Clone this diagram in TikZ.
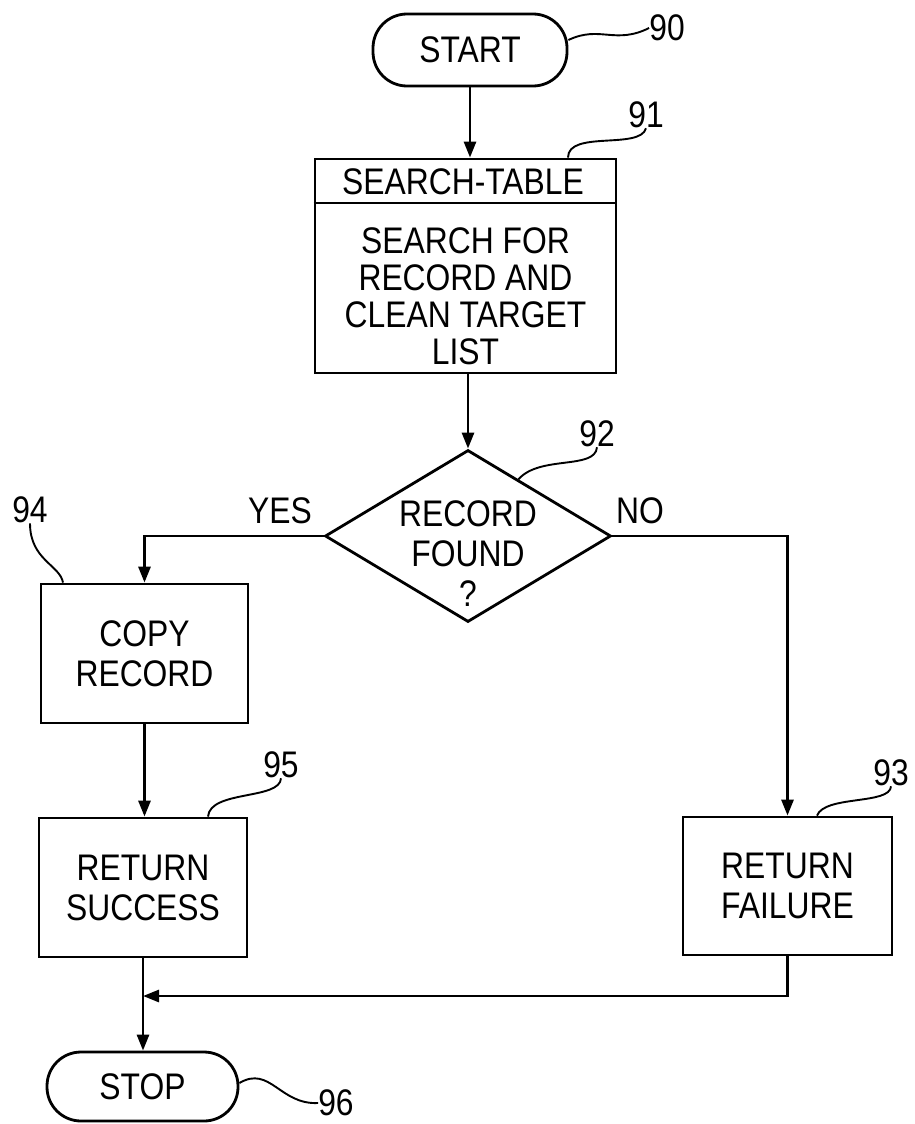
\documentclass[tikz,border=0pt]{standalone}
\usepackage{fontspec}
\setmainfont{Liberation Sans}[FakeStretch=0.86]
\usetikzlibrary{arrows.meta,shapes.geometric,calc}
\begin{document}
\begin{tikzpicture}[x=1pt,y=-1pt,
  every node/.style={font=\fontsize{37}{40}\selectfont, inner sep=0pt},
  line/.style={line width=2.8pt},
  arr/.style={line width=2.8pt,-{Triangle[length=16pt,width=12pt]}},
  lead/.style={line width=1.9pt},
  box/.style={draw, line width=2.8pt, rectangle, align=center},
  term/.style={draw, line width=2.8pt, rectangle, rounded corners=34pt},
  dia/.style={draw, line width=2.8pt, diamond}]
\useasboundingbox (0,0) rectangle (914,1124);

% nodes
\node[term, minimum width=194pt, minimum height=72pt] (start) at (470,50) {START};
\node[box, minimum width=301pt, minimum height=214pt] (search) at (465.5,266) {};
\draw[line] (search.west |- 0,203) -- (search.east |- 0,203);
\node (searchhead) at (463,182) {SEARCH-TABLE};
\node[align=center, font=\fontsize{37}{37}\selectfont] (searchbody) at (465.5,296) {SEARCH FOR\\RECORD AND\\CLEAN TARGET\\LIST};
\node[dia, minimum width=286pt, minimum height=172pt] (dec) at (468,536) {};
\node[align=center] (dectext) at (468,554) {RECORD\\FOUND\\?};
\node[box, minimum width=207pt, minimum height=139pt] (copy) at (144.5,653.5) {COPY\\RECORD};
\node[box, minimum width=208pt, minimum height=139pt] (succ) at (143,887.5) {RETURN\\SUCCESS};
\node[box, minimum width=209pt, minimum height=138pt] (fail) at (787.5,886) {RETURN\\FAILURE};
\node[term, minimum width=191pt, minimum height=69pt] (stop) at (142.5,1086.5) {STOP};

% branch labels
\node (yes) at (280,511) {YES};
\node (no) at (640,511) {NO};

% reference numerals
\node (n90) at (667,28) {90};
\node (n91) at (646,115) {91};
\node (n92) at (597,434) {92};
\node (n93) at (891,773) {93};
\node (n94) at (30,510) {94};
\node (n95) at (281,765) {95};
\node (n96) at (336,1103) {96};

% connectors
\draw[arr] (start.south) -- (start.south |- search.north);
\draw[arr] (dec.north |- search.south) -- (dec.north);
\draw[arr] (dec.west) -| (copy.north);
\draw[arr] (dec.east) -| (fail.north);
\draw[arr] (copy.south) -- (copy.south |- succ.north);
\draw[arr] (succ.south) -- (succ.south |- stop.north);
\coordinate (jn) at (succ.south |- 0,996);
\draw[arr] (fail.south) |- (jn);

% leader lines
\coordinate (l90) at ([yshift=10pt]start.east);
\coordinate (l91) at ([xshift=102.5pt]search.north);
\coordinate (l92) at ($(dec.north)!0.35!(dec.east)$);
\coordinate (l93) at ([xshift=29.5pt]fail.north);
\coordinate (l94) at ([xshift=-81.5pt]copy.north);
\coordinate (l95) at ([xshift=65pt]succ.north);
\coordinate (l96) at ([yshift=3.5pt]stop.east);
\draw[lead] (l90) .. controls (600,25) and (615,45) .. (n90.west);
\draw[lead] (l91) .. controls (568,130) and (640,150) .. (n91.south);
\draw[lead] (l92) .. controls (540,455) and (595,470) .. (n92.south);
\draw[lead] (l93) .. controls (825,795) and (890,805) .. (n93.south);
\draw[lead] (l94) .. controls (60,565) and (30,560) .. (n94.south);
\draw[lead] (l95) .. controls (210,790) and (280,800) .. (n95.south);
\draw[lead] (l96) .. controls (270,1065) and (280,1105) .. (n96.west);
\end{tikzpicture}
\end{document}
